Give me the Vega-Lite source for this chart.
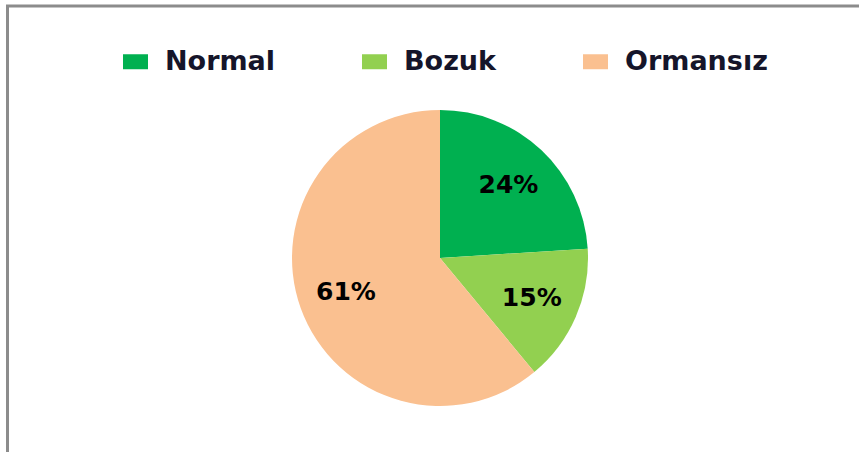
{
  "$schema": "https://vega.github.io/schema/vega-lite/v6.json",
  "autosize": "none",
  "width": 865,
  "height": 504,
  "padding": {"left": 7.5, "top": 6, "right": 0, "bottom": 0},
  "background": "white",
  "view": {"stroke": "#8c8c8c", "strokeWidth": 3},
  "data": {
    "values": [
      {"category": "Normal", "share": 0.24, "o": 1},
      {"category": "Bozuk", "share": 0.15, "o": 2},
      {"category": "Ormansız", "share": 0.61, "o": 3}
    ]
  },
  "encoding": {
    "theta": {"field": "share", "type": "quantitative", "stack": true},
    "order": {"field": "o", "type": "quantitative"},
    "color": {
      "field": "category",
      "type": "nominal",
      "scale": {"domain": ["Normal", "Bozuk", "Ormansız"], "range": ["#00B050", "#92D050", "#FAC090"]},
      "legend": {
        "title": null,
        "orient": "none",
        "direction": "horizontal",
        "legendX": 114.5,
        "legendY": 42,
        "padding": 0,
        "symbolType": "M-1,-0.6H1V0.6H-1Z",
        "symbolSize": 625,
        "symbolStrokeWidth": 0,
        "symbolOpacity": 1,
        "labelFont": "DejaVu Sans",
        "labelFontWeight": "bold",
        "labelFontSize": 27,
        "labelColor": "#15152a",
        "labelOffset": 16,
        "columnPadding": 85,
        "labelLimit": 400
      }
    }
  },
  "layer": [
    {"mark": {"type": "arc", "outerRadius": 148}},
    {
      "mark": {"type": "text", "radius": 100, "font": "DejaVu Sans", "fontWeight": "bold", "fontSize": 25, "fill": "#000000"},
      "encoding": {
        "text": {"field": "share", "type": "quantitative", "format": ".0%"},
        "color": {"value": "#000000"}
      }
    }
  ]
}
